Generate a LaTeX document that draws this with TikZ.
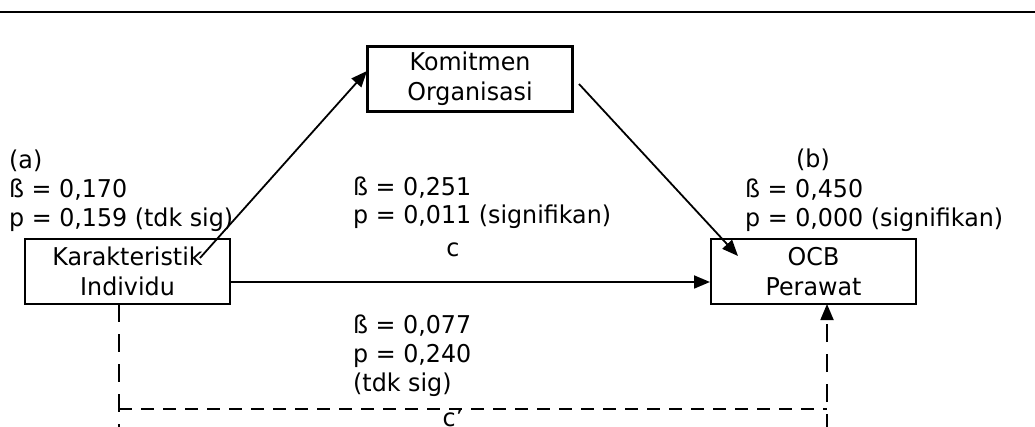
\documentclass[tikz,border=0pt]{standalone}
\usepackage{fontspec}
\setmainfont[FakeStretch=0.97]{DejaVu Sans}
\usetikzlibrary{arrows.meta}
\begin{document}
\begin{tikzpicture}[x=1pt,y=-1pt,
  every node/.style={font=\fontsize{24.5}{30}\selectfont, inner sep=0pt},
  box/.style={draw, line width=2.2pt, minimum width=205pt, minimum height=65pt, align=center},
  lbl/.style={anchor=base west},
  mid/.style={anchor=base},
  tip/.style={-{Triangle[length=16pt,width=13pt]}},
  link/.style={line width=1.8pt, tip},
  hdash/.style={line width=1.8pt, dash pattern=on 13pt off 9pt},
  vdash/.style={line width=1.8pt, dash pattern=on 18pt off 12pt}]
\useasboundingbox (0,0) rectangle (1035,427);

% heading rule
\coordinate (ruleL) at (0,12);
\coordinate (ruleR) at (1035,12);
\draw[line width=2.8pt] (ruleL) -- (ruleR);

% variables
\node[box] (kom) at (470,79) {Komitmen\\Organisasi};
\node[box] (kar) at (127.5,271.5) {Karakteristik\\Individu};
\node[box] (ocb) at (813.5,271.5) {OCB\\Perawat};

% path a
\coordinate (karOut) at (200,258);
\coordinate (komIn) at (367,71);
\draw[link] (karOut) -- (komIn);

% path b
\coordinate (komOut) at (579,84);
\coordinate (ocbIn) at (738,256);
\draw[link] (komOut) -- (ocbIn);

% direct path c
\coordinate (karR) at (231,282);
\coordinate (ocbL) at (710,282);
\draw[link] (karR) -- (ocbL);

% direct path c'
\coordinate (dTop) at (119,304);
\coordinate (dBot) at (119,432);
\coordinate (hL) at (119,409);
\coordinate (hR) at (827,409);
\coordinate (uBot) at (827,432);
\coordinate (uTop) at (827,304);
\draw[vdash] (dTop) -- (dBot);
\draw[hdash] (hL) -- (hR);
\draw[vdash, tip] (uBot) -- (uTop);

% coefficients
\node[lbl] (aTag) at (9,169) {(a)};
\node[lbl] (aBeta) at (9,198) {ß = 0,170};
\node[lbl] (aP) at (9,227) {p = 0,159 (tdk sig)};

\node[lbl] (cBeta) at (353,196) {ß = 0,251};
\node[lbl] (cP) at (353,224) {p = 0,011 (signifikan)};
\node[mid] (cTag) at (453,257) {c};

\node[lbl] (bTag) at (796,168) {(b)};
\node[lbl] (bBeta) at (745,198) {ß = 0,450};
\node[lbl] (bP) at (745,227) {p = 0,000 (signifikan)};

\node[lbl] (dBeta) at (353,334) {ß = 0,077};
\node[lbl] (dP) at (353,362) {p = 0,240};
\node[lbl] (dSig) at (353,391) {(tdk sig)};
\node[mid] (dTag) at (453,426) {c'};
\end{tikzpicture}
\end{document}
